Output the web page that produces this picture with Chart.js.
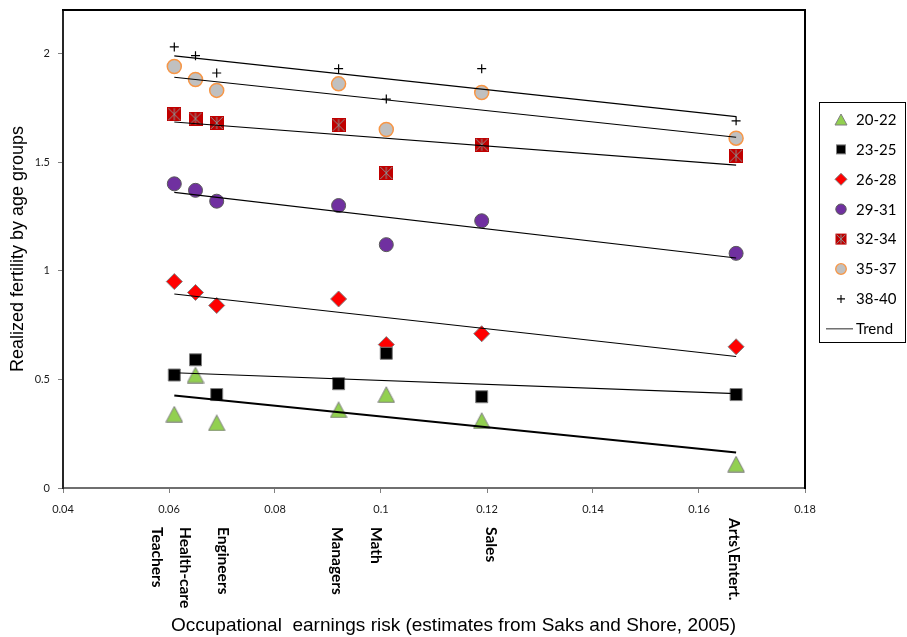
<!DOCTYPE html>
<html>
<head>
<meta charset="utf-8">
<title>Realized fertility and occupational earnings risk</title>
<script src="https://cdn.jsdelivr.net/npm/chart.js@4.4.1/dist/chart.umd.min.js"></script>
<style>
  html, body { margin: 0; padding: 0; background: #ffffff; }
  #wrap { width: 907px; height: 637px; }
</style>
</head>
<body>
<div id="wrap"><canvas id="chart" width="907" height="637"></canvas></div>
<script>
// Occupations and their earnings-risk estimates (x values)
const occupations = ['Teachers', 'Health-care', 'Engineers', 'Managers', 'Math', 'Sales', 'Arts\\Entert.'];
const earningsRisk = [0.061, 0.065, 0.069, 0.092, 0.101, 0.119, 0.167];

// Realized fertility per age group, one value per occupation
const ageGroups = ['20-22', '23-25', '26-28', '29-31', '32-34', '35-37', '38-40'];
const fert20_22 = [0.34, 0.52, 0.30, 0.36, 0.43, 0.31, 0.11];
const fert23_25 = [0.52, 0.59, 0.43, 0.48, 0.62, 0.42, 0.43];
const fert26_28 = [0.95, 0.90, 0.84, 0.87, 0.66, 0.71, 0.65];
const fert29_31 = [1.40, 1.37, 1.32, 1.30, 1.12, 1.23, 1.08];
const fert32_34 = [1.72, 1.70, 1.68, 1.67, 1.45, 1.58, 1.53];
const fert35_37 = [1.94, 1.88, 1.83, 1.86, 1.65, 1.82, 1.61];
const fert38_40 = [2.03, 1.99, 1.91, 1.93, 1.79, 1.93, 1.69];

// Axis ranges and tick steps
const xRange = [0.04, 0.18];
const xStep = 0.02;
const yRange = [0, 2.2];
const yStep = 0.5;

const xTitle = 'Occupational  earnings risk (estimates from Saks and Shore, 2005)';
const yTitle = 'Realized fertility by age groups';

// ---- marker images ----
function makeCanvas(w, h, paint) {
  const c = document.createElement('canvas');
  c.width = w; c.height = h;
  paint(c.getContext('2d'), w, h);
  return c;
}
function pathTriangle(g, cx, cy, w, h) {
  g.beginPath();
  g.moveTo(cx, cy - h / 2);
  g.lineTo(cx + w / 2, cy + h / 2);
  g.lineTo(cx - w / 2, cy + h / 2);
  g.closePath();
  g.fillStyle = '#92D050'; g.fill();
  g.strokeStyle = '#7F7F7F'; g.lineWidth = 1; g.stroke();
}
function pathStarSquare(g, cx, cy, s) {
  const h = s / 2;
  g.fillStyle = '#C00000';
  g.fillRect(cx - h, cy - h, s, s);
  g.strokeStyle = '#8C8C8C'; g.lineWidth = 1;
  g.beginPath();
  g.moveTo(cx - h + 1, cy - h + 1); g.lineTo(cx + h - 1, cy + h - 1);
  g.moveTo(cx + h - 1, cy - h + 1); g.lineTo(cx - h + 1, cy + h - 1);
  g.moveTo(cx, cy - h + 1); g.lineTo(cx, cy + h - 1);
  g.stroke();
}
const triangleImg = makeCanvas(18, 17, (g, w, h) => pathTriangle(g, w / 2, h / 2, 16.5, 15.5));
const starSquareImg = makeCanvas(14, 14, (g, w, h) => pathStarSquare(g, w / 2, h / 2, 14));

// ---- data assembly ----
const toPoints = ys => earningsRisk.map((x, i) => ({ x: x, y: ys[i] }));

// least-squares trend between the smallest and largest x
function trendPoints(ys) {
  const n = earningsRisk.length;
  const mx = earningsRisk.reduce((a, b) => a + b, 0) / n;
  const my = ys.reduce((a, b) => a + b, 0) / n;
  let sxy = 0, sxx = 0;
  earningsRisk.forEach((x, i) => { sxy += (x - mx) * (ys[i] - my); sxx += (x - mx) * (x - mx); });
  const b = sxy / sxx, a = my - b * mx;
  const x0 = Math.min(...earningsRisk), x1 = Math.max(...earningsRisk);
  return [{ x: x0, y: a + b * x0 }, { x: x1, y: a + b * x1 }];
}

const seriesValues = [fert20_22, fert23_25, fert26_28, fert29_31, fert32_34, fert35_37, fert38_40];
const markerStyles = [
  { pointStyle: triangleImg },
  { pointStyle: 'rect', pointRadius: 8.5, backgroundColor: '#000000', borderColor: '#7F7F7F', borderWidth: 1 },
  { pointStyle: 'rectRot', pointRadius: 8, backgroundColor: '#FF0000', borderColor: '#7F7F7F', borderWidth: 1 },
  { pointStyle: 'circle', pointRadius: 7, backgroundColor: '#7030A0', borderColor: '#595959', borderWidth: 1 },
  { pointStyle: starSquareImg },
  { pointStyle: 'circle', pointRadius: 7, backgroundColor: '#C0C0C0', borderColor: '#F79646', borderWidth: 1.5 },
  { pointStyle: 'cross', pointRadius: 4.5, backgroundColor: '#000000', borderColor: '#000000', borderWidth: 1.2 }
];

const datasets = [];
seriesValues.forEach((ys, i) => {
  const st = markerStyles[i];
  datasets.push({
    type: 'scatter',
    label: ageGroups[i],
    data: toPoints(ys),
    showLine: false,
    pointStyle: st.pointStyle,
    pointRadius: st.pointRadius || 8,
    pointHoverRadius: st.pointRadius || 8,
    backgroundColor: st.backgroundColor || '#000',
    borderColor: st.borderColor || '#000',
    borderWidth: st.borderWidth || 1,
    order: 1
  });
});
seriesValues.forEach((ys, i) => {
  datasets.push({
    type: 'line',
    label: 'Trend ' + ageGroups[i],
    data: trendPoints(ys),
    borderColor: '#000000',
    borderWidth: i === 0 ? 2 : 1.1,
    pointRadius: 0,
    fill: false,
    order: -1
  });
});

// ---- decorations: frame, x title, occupation labels, legend ----
const labelNudge = [-17, -10.5, 6, -2, -10.5, 9.5, -2.6];
const labelTop = [527, 527, 527, 527, 527, 527, 518];

const decorations = {
  id: 'decorations',
  beforeDatasetsDraw(chart) {
    const { ctx, chartArea: a } = chart;
    ctx.save();
    ctx.strokeStyle = '#000000';
    ctx.lineWidth = 2;
    ctx.beginPath();
    ctx.moveTo(a.left - 1, a.top);
    ctx.lineTo(a.right, a.top);
    ctx.lineTo(a.right, a.bottom + 1);
    ctx.stroke();
    ctx.restore();
  },
  afterDraw(chart) {
    const { ctx } = chart;
    const xs = chart.scales.x;
    ctx.save();

    // x axis title, centred on the canvas
    ctx.fillStyle = '#000000';
    ctx.font = '19px "Liberation Sans", Arial, sans-serif';
    ctx.textAlign = 'center';
    ctx.textBaseline = 'middle';
    ctx.fillText(xTitle, chart.width / 2, 626);

    // occupation names, rotated to read downwards
    ctx.font = 'bold 15.5px Lato, "Open Sans", sans-serif';
    ctx.textAlign = 'left';
    occupations.forEach((name, i) => {
      const px = xs.getPixelForValue(earningsRisk[i]) + labelNudge[i];
      ctx.save();
      ctx.translate(px, labelTop[i]);
      ctx.rotate(Math.PI / 2);
      ctx.fillText(name, 0, 0);
      ctx.restore();
    });

    // legend box
    const lx = 819.5, ly = 102.5, lw = 86, lh = 240;
    ctx.strokeStyle = '#000000';
    ctx.lineWidth = 1;
    ctx.strokeRect(lx, ly, lw, lh);

    const rowY = i => 119.5 + i * 29.9;
    const mx = 841;
    // 20-22
    pathTriangle(ctx, mx, rowY(0), 12, 11);
    // 23-25
    ctx.fillStyle = '#000000'; ctx.fillRect(mx - 4.5, rowY(1) - 4.5, 9, 9);
    ctx.strokeStyle = '#7F7F7F'; ctx.lineWidth = 1; ctx.strokeRect(mx - 4.5, rowY(1) - 4.5, 9, 9);
    // 26-28
    ctx.beginPath();
    ctx.moveTo(mx, rowY(2) - 6); ctx.lineTo(mx + 6, rowY(2)); ctx.lineTo(mx, rowY(2) + 6); ctx.lineTo(mx - 6, rowY(2)); ctx.closePath();
    ctx.fillStyle = '#FF0000'; ctx.fill(); ctx.strokeStyle = '#7F7F7F'; ctx.stroke();
    // 29-31
    ctx.beginPath(); ctx.arc(mx, rowY(3), 5.2, 0, Math.PI * 2);
    ctx.fillStyle = '#7030A0'; ctx.fill(); ctx.strokeStyle = '#595959'; ctx.stroke();
    // 32-34
    pathStarSquare(ctx, mx, rowY(4), 11);
    // 35-37
    ctx.beginPath(); ctx.arc(mx, rowY(5), 5.3, 0, Math.PI * 2);
    ctx.fillStyle = '#C0C0C0'; ctx.fill(); ctx.strokeStyle = '#F79646'; ctx.lineWidth = 1.3; ctx.stroke();
    // 38-40
    ctx.beginPath();
    ctx.moveTo(mx - 4, rowY(6)); ctx.lineTo(mx + 4, rowY(6));
    ctx.moveTo(mx, rowY(6) - 4); ctx.lineTo(mx, rowY(6) + 4);
    ctx.strokeStyle = '#000000'; ctx.lineWidth = 1.1; ctx.stroke();
    // Trend
    ctx.beginPath(); ctx.moveTo(826, rowY(7)); ctx.lineTo(853, rowY(7));
    ctx.strokeStyle = '#595959'; ctx.lineWidth = 1.3; ctx.stroke();

    ctx.fillStyle = '#000000';
    ctx.font = '15px Lato, "Open Sans", sans-serif';
    ctx.textAlign = 'left';
    ctx.textBaseline = 'middle';
    ageGroups.concat(['Trend']).forEach((t, i) => ctx.fillText(t, 856, rowY(i) + 0.5));

    ctx.restore();
  }
};

const fmt = v => String(+Number(v).toFixed(2));

new Chart(document.getElementById('chart'), {
  type: 'scatter',
  data: { datasets: datasets },
  options: {
    responsive: false,
    animation: false,
    events: [],
    layout: { padding: { left: 0, right: 102, top: 10, bottom: 0 } },
    plugins: { legend: { display: false }, tooltip: { enabled: false } },
    scales: {
      x: {
        type: 'linear',
        position: 'bottom',
        min: xRange[0], max: xRange[1],
        ticks: {
          stepSize: xStep, includeBounds: false, padding: 10, color: '#1a1a1a',
          font: { family: 'Lato, "Open Sans", sans-serif', size: 11 },
          callback: fmt, maxRotation: 0, autoSkip: false
        },
        grid: { drawOnChartArea: false, drawTicks: true, tickLength: 5, color: '#808080' },
        border: { display: true, color: '#6F6F6F', width: 2 },
        afterFit(s) { s.height = 149; s.paddingLeft = 0; s.paddingRight = 0; }
      },
      y: {
        type: 'linear',
        min: yRange[0], max: yRange[1],
        ticks: {
          stepSize: yStep, includeBounds: false, padding: 8, color: '#1a1a1a',
          font: { family: 'Lato, "Open Sans", sans-serif', size: 11 },
          callback: fmt
        },
        grid: { drawOnChartArea: false, drawTicks: true, tickLength: 5, color: '#808080' },
        border: { display: true, color: '#262626', width: 2 },
        title: {
          display: true, text: yTitle, color: '#000000',
          font: { family: '"Liberation Sans", Arial, sans-serif', size: 18 },
          padding: { top: 7, bottom: 0 }
        },
        afterFit(s) { s.width = 63; s.paddingTop = 0; s.paddingBottom = 0; }
      }
    }
  },
  plugins: [decorations]
});
</script>
</body>
</html>
